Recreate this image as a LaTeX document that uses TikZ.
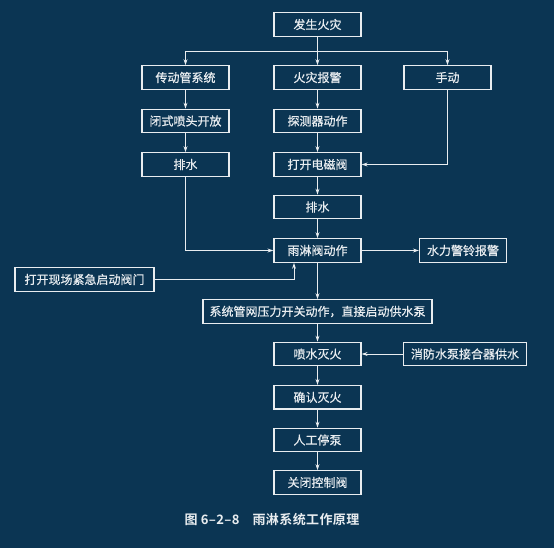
\documentclass[tikz,border=0pt]{standalone}
\usepackage{fontspec}
\newfontfamily\cjk{Noto Sans CJK SC}[FakeBold=0.6]
\newfontfamily\cjkb{Noto Sans CJK SC}[BoldFont={* Bold}, LetterSpace=3]
\usetikzlibrary{arrows.meta}
\definecolor{bgc}{HTML}{0B3553}
\definecolor{fgc}{HTML}{E9EDF0}
\tikzset{
  box/.style={draw=fgc, line width=1.3pt, text=fgc, minimum height=23.5pt, minimum width=87pt, inner sep=1pt, font=\cjk\fontsize{12}{14}\selectfont},
  conn/.style={draw=fgc, line width=0.9pt},
  arr/.style={conn, -{Stealth[length=6pt,width=4pt]}}
}
\begin{document}
\begin{tikzpicture}[x=1pt,y=-1pt]
\fill[bgc] (0,0) rectangle (554,548);
\useasboundingbox (0,0) rectangle (554,548);
\node[box] (fire) at (317.5,24.5) {发生火灾};
\node[box] (cdg) at (185.5,77.5) {传动管系统};
\node[box] (hzbj) at (317.5,77.5) {火灾报警};
\node[box] (sd) at (447.5,77.5) {手动};
\node[box] (bsp) at (185.5,121) {闭式喷头开放};
\node[box] (tcq) at (317.5,121) {探测器动作};
\node[box] (psL) at (185.5,164.5) {排水};
\node[box] (dcf) at (317.5,164.5) {打开电磁阀};
\node[box] (psM) at (317.5,207) {排水};
\node[box] (ylf) at (317.5,250.5) {雨淋阀动作};
\node[box] (sljl) at (463,250.5) {水力警铃报警};
\node[box, minimum width=139pt] (dkxc) at (84.5,279.5) {打开现场紧急启动阀门};
\node[box, minimum width=229pt] (xtgw) at (317.5,311.5) {系统管网压力开关动作，直接启动供水泵};
\node[box] (psmh) at (317.5,354) {喷水灭火};
\node[box, minimum width=122.5pt] (xfsb) at (465,354) {消防水泵接合器供水};
\node[box] (qr) at (317.5,397.3) {确认灭火};
\node[box] (rg) at (317.5,440) {人工停泵};
\node[box] (gb) at (317.5,482.5) {关闭控制阀};
\node[text=fgc, font=\cjkb\bfseries\fontsize{13}{15}\selectfont, anchor=west] (cap) at (181,520) {图 6–2–8\hspace{1em}雨淋系统工作原理};
\coordinate (bl) at (185.5,51);
\coordinate (br) at (447.5,51);
\draw[arr] (fire) -- (hzbj);
\draw[conn] (bl) -- (br);
\draw[arr] (bl) -- (cdg);
\draw[arr] (br) -- (sd);
\draw[arr] (cdg) -- (bsp);
\draw[arr] (bsp) -- (psL);
\draw[arr] (hzbj) -- (tcq);
\draw[arr] (tcq) -- (dcf);
\draw[arr] (sd.south) |- (dcf.east);
\draw[arr] (dcf) -- (psM);
\draw[arr] (psM) -- (ylf);
\draw[arr] (psL.south) |- (ylf.west);
\draw[arr] (ylf) -- (sljl);
\draw[arr] (dkxc.east) -| ([xshift=-23.5pt]ylf.south);
\draw[arr] (ylf) -- (xtgw);
\draw[arr] (xtgw) -- (psmh);
\draw[arr] (xfsb) -- (psmh);
\draw[arr] (psmh) -- (qr);
\draw[arr] (qr) -- (rg);
\draw[arr] (rg) -- (gb);
\end{tikzpicture}
\end{document}
